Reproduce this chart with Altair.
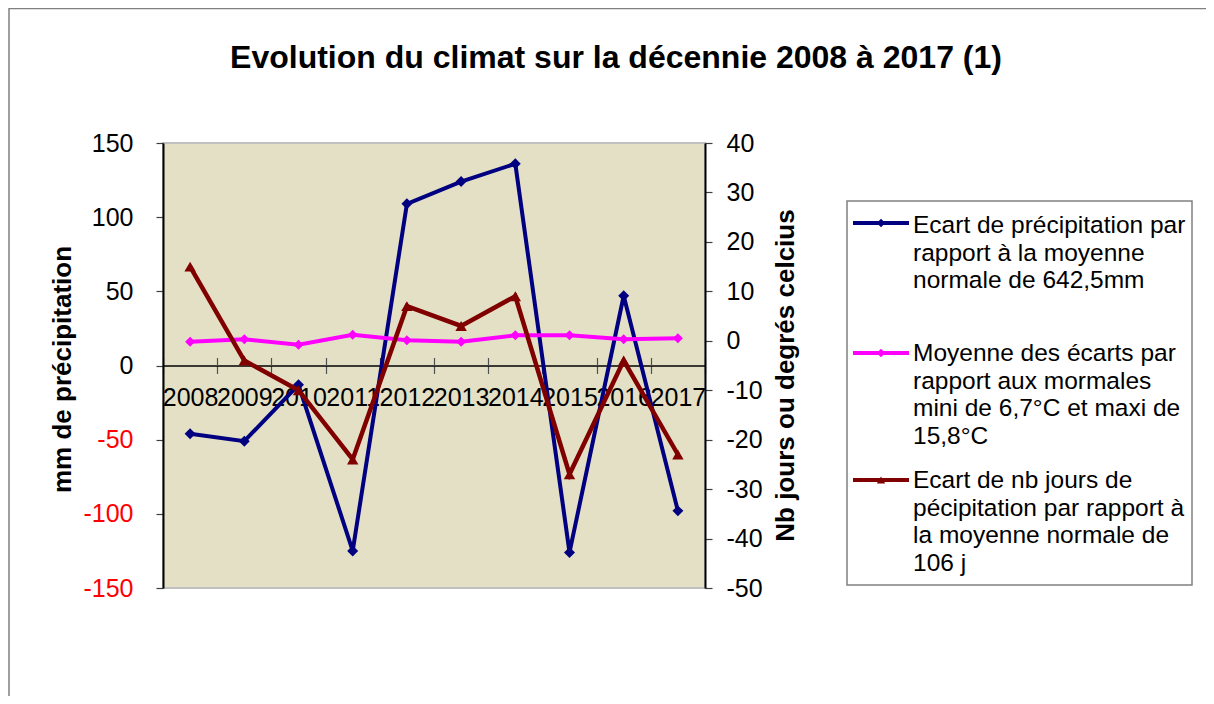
import altair as alt
import pandas as pd

# ---------------- data ----------------
years = ["2008", "2009", "2010", "2011", "2012", "2013", "2014", "2015", "2016", "2017"]
precip_gap = [-46, -51, -13, -125, 109, 124, 136, -126, 47, -98]          # mm (left axis)
temp_gap = [-0.2, 0.3, -0.8, 1.2, 0.1, -0.2, 1.1, 1.1, 0.3, 0.5]          # °C (right axis)
days_gap = [15, -4, -10, -24, 7, 3, 9, -27, -4, -23]                       # days (right axis)

left_ticks = [-150, -100, -50, 0, 50, 100, 150]
right_ticks = [-50, -40, -30, -20, -10, 0, 10, 20, 30, 40]

series_names = [
    "Ecart de précipitation par\nrapport à la moyenne\nnormale de 642,5mm",
    "Moyenne des écarts par\nrapport aux mormales\nmini de 6,7°C et maxi de\n15,8°C",
    "Ecart de nb jours de\npécipitation par rapport à\nla moyenne normale de\n106 j",
]
series_colors = ["#000080", "#FF00FF", "#800000"]
series_shapes = ["diamond", "diamond", "triangle-up"]

chart_title = "Evolution du climat sur la décennie 2008 à 2017 (1)"
left_title = "mm de précipitation"
right_title = "Nb jours ou degrés celcius"

# ---------------- layout ----------------
W, H = 542, 445
FONT = "Liberation Sans"

df = pd.DataFrame({"year": years, "precip": precip_gap, "temp": temp_gap, "days": days_gap})

xscale = alt.Scale(domain=years, paddingInner=0, paddingOuter=0)

x_bottom_axis = alt.Axis(
    orient="bottom", offset=-H / 2, title=None,
    labelFont=FONT, labelFontSize=25, labelColor="black", labelPadding=12,
    labelAngle=0, labelOverlap=False,
    tickBand="extent", tickSize=8, tickColor="#505050", tickWidth=1.2,
    domainColor="black", domainWidth=1.5,
)
x_top_axis = alt.Axis(
    orient="top", offset=-H / 2, title=None, labels=False, domain=False,
    tickBand="extent", tickSize=8, tickColor="#505050", tickWidth=1.2,
)

left_axis = alt.Axis(
    orient="left", values=left_ticks, grid=False,
    labelExpr="'' + datum.value",
    labelFont=FONT, labelFontSize=25, labelPadding=23,
    labelColor=alt.condition("datum.value < 0", alt.value("#FF0000"), alt.value("black")),
    tickSize=7, tickColor="#404040", tickWidth=1.2,
    domainColor="black", domainWidth=2,
    title=left_title, titleFont=FONT, titleFontSize=26, titleFontWeight="bold",
    titleColor="black", titleAngle=270, titleAlign="center", titleBaseline="alphabetic",
    titleX=-93, titleY=226,
)
right_axis = alt.Axis(
    orient="right", values=right_ticks, grid=False,
    labelExpr="'' + datum.value",
    labelFont=FONT, labelFontSize=25, labelPadding=14, labelColor="black", labelAlign="left",
    tickSize=7, tickColor="#404040", tickWidth=1.2,
    domainColor="black", domainWidth=2,
    title=right_title, titleFont=FONT, titleFontSize=26, titleFontWeight="bold",
    titleColor="black", titleAngle=270, titleAlign="center", titleBaseline="alphabetic",
    titleX=88, titleY=232,
)

base = alt.Chart(df)

blue = base.mark_line(
    color=series_colors[0], strokeWidth=4,
    point=alt.OverlayMarkDef(shape=series_shapes[0], filled=True, size=120,
                             color=series_colors[0], opacity=1),
).encode(
    x=alt.X("year:N", scale=xscale, bandPosition=0.5, axis=x_bottom_axis, sort=years),
    y=alt.Y("precip:Q", scale=alt.Scale(domain=[-150, 150], nice=False), axis=left_axis),
)

pink = base.mark_line(
    color=series_colors[1], strokeWidth=4,
    point=alt.OverlayMarkDef(shape=series_shapes[1], filled=True, size=100,
                             color=series_colors[1], opacity=1),
).encode(
    x=alt.X("year:N", scale=xscale, bandPosition=0.5, axis=x_top_axis, sort=years),
    y=alt.Y("temp:Q", scale=alt.Scale(domain=[-50, 40], nice=False), axis=right_axis),
)

red = base.mark_line(
    color=series_colors[2], strokeWidth=4.5,
    point=alt.OverlayMarkDef(shape=series_shapes[2], filled=True, size=130,
                             color=series_colors[2], opacity=1),
).encode(
    x=alt.X("year:N", scale=xscale, bandPosition=0.5, axis=None, sort=years),
    y=alt.Y("days:Q", scale=alt.Scale(domain=[-50, 40], nice=False), axis=None),
)

one = pd.DataFrame({"k": [0]})

# outer chart-area border
border = alt.Chart(one).mark_rect(
    fillOpacity=0, stroke="#808080", strokeWidth=1.5
).encode(x=alt.value(-154), x2=alt.value(1100), y=alt.value(-134.5), y2=alt.value(700))

title = alt.Chart(pd.DataFrame({"t": [chart_title]})).mark_text(
    font=FONT, fontSize=32, fontWeight="bold", color="black", align="center",
    baseline="alphabetic",
).encode(text="t:N", x=alt.value(453), y=alt.value(-75))

# legend
legend_box = alt.Chart(one).mark_rect(
    fill="white", stroke="#808080", strokeWidth=1.5
).encode(x=alt.value(684), x2=alt.value(1029), y=alt.value(58), y2=alt.value(442))

sym_y = [80, 210, 337]
txt_y = [90, 218, 345]
legend_layers = [legend_box]
for i in range(3):
    legend_layers.append(
        alt.Chart(one).mark_rule(color=series_colors[i], strokeWidth=4).encode(
            x=alt.value(690), x2=alt.value(746), y=alt.value(sym_y[i]))
    )
    legend_layers.append(
        alt.Chart(one).mark_point(shape=series_shapes[i], filled=True, size=70,
                                  color=series_colors[i], opacity=1).encode(
            x=alt.value(718), y=alt.value(sym_y[i]))
    )
    legend_layers.append(
        alt.Chart(pd.DataFrame({"t": [series_names[i]]})).mark_text(
            font=FONT, fontSize=24.5, lineHeight=27.5, lineBreak="\n",
            align="left", baseline="alphabetic", color="black",
        ).encode(text="t:N", x=alt.value(750), y=alt.value(txt_y[i]))
    )

chart = alt.layer(
    border, blue, pink, red, title, *legend_layers
).resolve_scale(y="independent").resolve_axis(x="independent", y="independent").properties(
    width=W, height=H,
    padding={"left": 155, "top": 135, "right": 501, "bottom": 108},
    autosize=alt.AutoSizeParams(type="none"),
    background="white",
).configure_view(
    fill="#E4E0C6", stroke="#C0C0C0", strokeWidth=2
)

chart.save("out.html", embed_options={"renderer": "svg", "actions": False})
